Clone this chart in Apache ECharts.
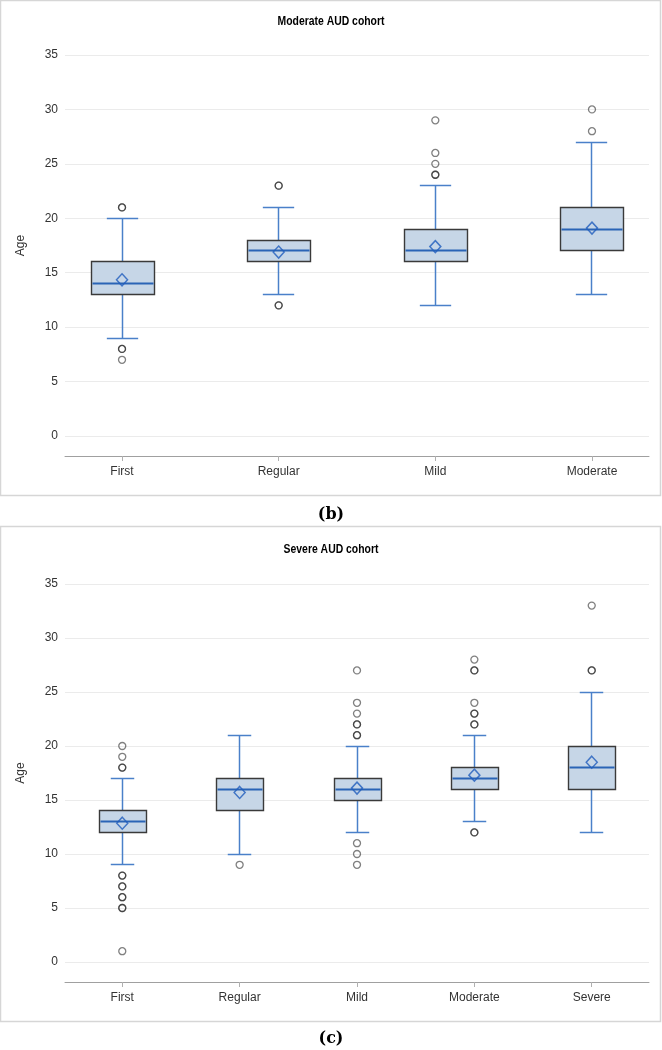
<!DOCTYPE html>
<html>
<head>
<meta charset="utf-8">
<script src="https://cdn.jsdelivr.net/npm/echarts@6/dist/echarts.min.js"></script>
<style>
html,body{margin:0;padding:0;background:#fff;}
#chart{width:662px;height:1050px;}
</style>
</head>
<body>
<div id="chart"></div>
<script>
// ---------- Data: panel (b) Moderate AUD cohort ----------
const catsB = ['First', 'Regular', 'Mild', 'Moderate'];
const lowB  = [9, 13, 12, 13];
const q1B   = [13, 16, 16, 17];
const medB  = [14, 17, 17, 19];
const q3B   = [16, 18, 19, 21];
const highB = [20, 21, 23, 27];
const meanB = [14.35, 16.9, 17.4, 19.1];
const outB  = [[21, 21, 8, 8, 7], [23, 23, 12, 12], [29, 26, 25, 24, 24], [30, 28]];

// ---------- Data: panel (c) Severe AUD cohort ----------
const catsC = ['First', 'Regular', 'Mild', 'Moderate', 'Severe'];
const lowC  = [9, 10, 12, 13, 12];
const q1C   = [12, 14, 15, 16, 16];
const medC  = [13, 16, 16, 17, 18];
const q3C   = [14, 17, 17, 18, 20];
const highC = [17, 21, 20, 21, 25];
const meanC = [12.85, 15.7, 16.1, 17.3, 18.5];
const outC  = [
  [20, 19, 18, 18, 8, 8, 7, 7, 6, 6, 5, 5, 1],
  [9],
  [27, 24, 23, 22, 22, 21, 21, 11, 10, 9],
  [28, 27, 27, 24, 23, 23, 22, 22, 12, 12],
  [33, 27, 27]
];

const yTicks = [0, 5, 10, 15, 20, 25, 30, 35];
const titleB = 'Moderate AUD cohort';
const titleC = 'Severe AUD cohort';
const capB = '(b)';
const capC = '(c)';

// ---------- Styles ----------
const FONT = '"Liberation Sans", Arial, sans-serif';
const BOX_FILL = '#c6d6e7';
const BOX_EDGE = '#3a3a3a';
const WHISK = '#4a80c9';
const MED = '#2a64b6';

function boxData(lo, a, m, b, hi) {
  return lo.map((v, i) => [i, v, a[i], m[i], b[i], hi[i]]);
}
function outData(outs) {
  const d = [];
  outs.forEach((arr, i) => arr.forEach(v => d.push([i, v])));
  return d;
}
function meanData(means) { return means.map((v, i) => [i, v]); }

function crisp(v) { return Math.round(v - 0.5) + 0.5; }

function renderBox(params, api) {
  const x = api.value(0);
  const band = api.size([1, 0])[0];
  const bw = band * 0.40, cw = band * 0.20;
  const cx = crisp(api.coord([x, 0])[0]);
  const yLow = crisp(api.coord([x, api.value(1)])[1]);
  const yQ1 = crisp(api.coord([x, api.value(2)])[1]);
  const yMed = crisp(api.coord([x, api.value(3)])[1]);
  const yQ3 = crisp(api.coord([x, api.value(4)])[1]);
  const yHigh = crisp(api.coord([x, api.value(5)])[1]);
  const wl = { stroke: WHISK, lineWidth: 1.5 };
  return {
    type: 'group',
    children: [
      { type: 'line', shape: { x1: cx, y1: yQ3, x2: cx, y2: yHigh }, style: wl },
      { type: 'line', shape: { x1: cx, y1: yQ1, x2: cx, y2: yLow }, style: wl },
      { type: 'line', shape: { x1: cx - cw / 2, y1: yHigh, x2: cx + cw / 2, y2: yHigh }, style: wl },
      { type: 'line', shape: { x1: cx - cw / 2, y1: yLow, x2: cx + cw / 2, y2: yLow }, style: wl },
      { type: 'rect', shape: { x: crisp(cx - bw / 2), y: yQ3, width: Math.round(bw), height: yQ1 - yQ3 },
        style: { fill: BOX_FILL, stroke: BOX_EDGE, lineWidth: 1.4 } },
      { type: 'line', shape: { x1: crisp(cx - bw / 2) + 1, y1: yMed, x2: crisp(cx - bw / 2) + Math.round(bw) - 1, y2: yMed },
        style: { stroke: MED, lineWidth: 2 } }
    ]
  };
}

function xAxisFor(cats, gridIndex, pad) {
  const idx = cats.map((c, i) => i);
  return {
    type: 'value', gridIndex: gridIndex,
    min: -pad, max: cats.length - 1 + pad,
    offset: 20,
    axisLine: { show: true, onZero: false, lineStyle: { color: '#a0a0a0', width: 1 } },
    axisTick: { show: true, customValues: idx, length: 5, lineStyle: { color: '#b0b0b0' } },
    axisLabel: { customValues: idx, formatter: v => cats[Math.round(v)], color: '#333', fontSize: 12, fontFamily: FONT, margin: 10 },
    splitLine: { show: false }
  };
}
function yAxisFor(gridIndex) {
  return {
    type: 'value', gridIndex: gridIndex,
    min: yTicks[0], max: yTicks[yTicks.length - 1], interval: 5,
    name: 'Age', nameLocation: 'middle', nameGap: 38,
    nameTextStyle: { color: '#333', fontSize: 12, fontFamily: FONT },
    axisLine: { show: false }, axisTick: { show: false },
    axisLabel: { color: '#333', fontSize: 12, fontFamily: FONT, margin: 7 },
    splitLine: { show: true, lineStyle: { color: '#ebebeb', width: 1 } }
  };
}

function seriesFor(idx, lo, a, m, b, hi, means, outs) {
  return [
    { type: 'custom', xAxisIndex: idx, yAxisIndex: idx, renderItem: renderBox,
      data: boxData(lo, a, m, b, hi), encode: { x: 0, y: [1, 2, 3, 4, 5] }, z: 2, silent: true, clip: false },
    { type: 'scatter', xAxisIndex: idx, yAxisIndex: idx, data: meanData(means), symbol: 'diamond', symbolSize: [11, 12],
      itemStyle: { color: 'rgba(0,0,0,0)', borderColor: '#1f5cbd', borderWidth: 1.5 }, z: 4, silent: true },
    { type: 'scatter', xAxisIndex: idx, yAxisIndex: idx, data: outData(outs), symbol: 'circle', symbolSize: 7,
      itemStyle: { color: 'rgba(0,0,0,0)', borderColor: 'rgba(20,20,20,0.68)', borderWidth: 1.3 }, z: 3, silent: true }
  ];
}

function titleText(text, y) {
  return { type: 'text', x: 331, y: y, scaleX: 0.8,
    style: { text: text, font: 'bold 13px "Liberation Sans", Arial, sans-serif', fill: '#000', textAlign: 'center', textVerticalAlign: 'middle' } };
}

const chart = echarts.init(document.getElementById('chart'), null, { renderer: 'canvas' });
chart.setOption({
  animation: false,
  backgroundColor: '#fff',
  grid: [
    { left: 65, right: 13, top: 55, height: 381 },
    { left: 65, right: 13, top: 584, height: 378 }
  ],
  xAxis: [xAxisFor(catsB, 0, 0.364), xAxisFor(catsC, 1, 0.488)],
  yAxis: [yAxisFor(0), yAxisFor(1)],
  series: [].concat(
    seriesFor(0, lowB, q1B, medB, q3B, highB, meanB, outB),
    seriesFor(1, lowC, q1C, medC, q3C, highC, meanC, outC)
  ),
  graphic: [
    { type: 'rect', shape: { x: 0.5, y: 0.5, width: 660, height: 495 }, style: { fill: 'none', stroke: '#d6d6d6', lineWidth: 1.5 }, z: -1 },
    { type: 'rect', shape: { x: 0.5, y: 526.5, width: 660, height: 495 }, style: { fill: 'none', stroke: '#d6d6d6', lineWidth: 1.5 }, z: -1 },
    titleText(titleB, 21),
    titleText(titleC, 549),
    { type: 'text', x: 331, y: 515, style: { text: capB, font: 'bold 16px "DejaVu Serif", serif', fill: '#000', textAlign: 'center', textVerticalAlign: 'middle' } },
    { type: 'text', x: 331, y: 1039, style: { text: capC, font: 'bold 16px "DejaVu Serif", serif', fill: '#000', textAlign: 'center', textVerticalAlign: 'middle' } }
  ]
});
</script>
</body>
</html>
